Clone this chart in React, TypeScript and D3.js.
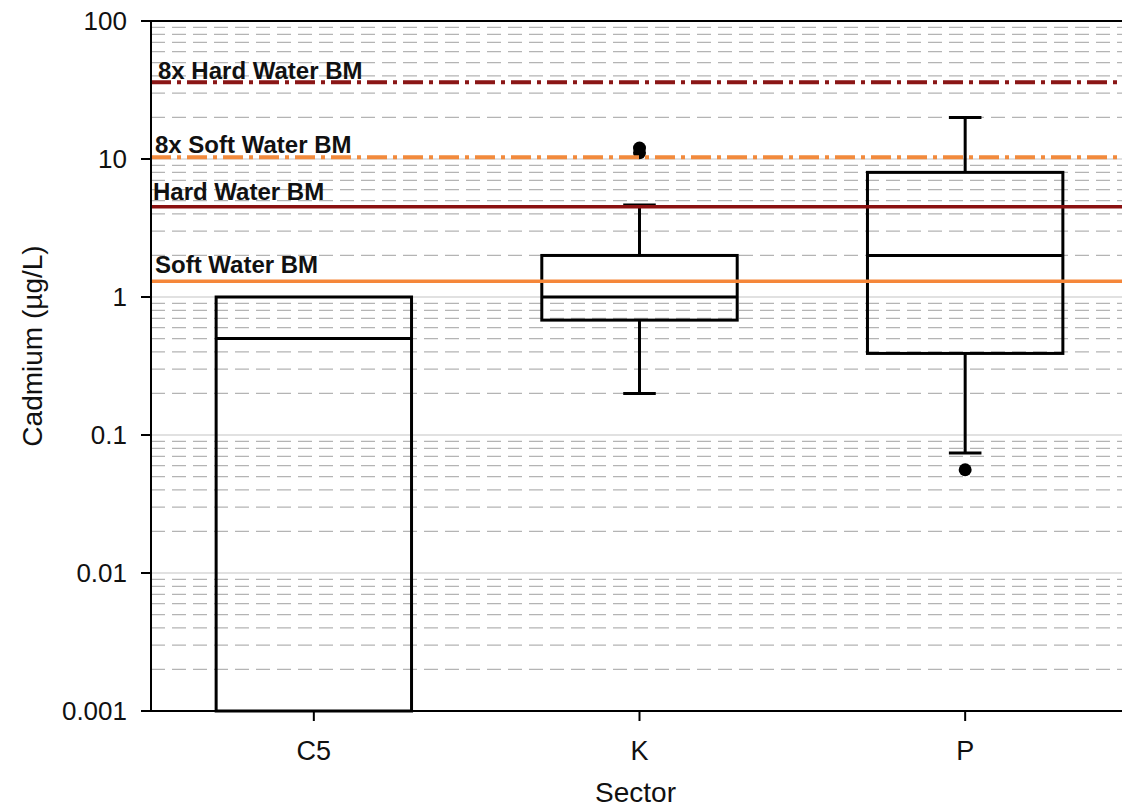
import React from 'react'
import * as d3 from 'd3'

// Box statistics per sector (Cadmium, µg/L)
const SECTORS = ['C5', 'K', 'P']
const Q1 = [0.001, 0.68, 0.39]
const MEDIANS = [0.5, 1.0, 2.0]
const Q3 = [1.0, 2.0, 8.0]
const WHISKER_LOW: (number | null)[] = [null, 0.2, 0.074]
const WHISKER_HIGH: (number | null)[] = [null, 4.65, 20]
const OUTLIERS: number[][] = [[], [12, 11.1], [0.056]]

// Benchmark lines
const BM_LABELS = ['8x Hard Water BM', '8x Soft Water BM', 'Hard Water BM', 'Soft Water BM']
const BM_VALUES = [36, 10.3, 4.5, 1.3]
const BM_COLORS = ['#8a1616', '#f28a3c', '#8a1010', '#f5873a']
const BM_DASHED = [true, true, false, false]
// label placement relative to the line (px)
const BM_LABEL_DX = [7, 4, 2, 4]
const BM_LABEL_DY = [-3, -4, -7, -8]

const Y_TICKS = [0.001, 0.01, 0.1, 1, 10, 100]
const Y_TICK_LABELS = ['0.001', '0.01', '0.1', '1', '10', '100']

const W = 1122
const H = 809
const margin = { top: 21, right: -6, bottom: 98, left: 151 }
const FONT = '"Liberation Sans", Arial, Helvetica, sans-serif'

export default function App() {
  const innerW = W - margin.left - margin.right
  const innerH = H - margin.top - margin.bottom

  const x = d3.scaleBand<string>().domain(SECTORS).range([0, innerW]).padding(0)
  const y = d3.scaleLog().domain([0.001, 100]).range([innerH, 0])

  const boxW = x.bandwidth() * 0.6
  const capW = x.bandwidth() * 0.1

  // minor grid values: 2..9 times each decade
  const minor: number[] = []
  for (let e = -3; e < 2; e++) {
    for (let m = 2; m <= 9; m++) minor.push(m * Math.pow(10, e))
  }
  const major = Y_TICKS.slice(1, -1)

  return (
    <svg width={W} height={H} style={{ position: 'absolute', left: 0, top: 0, background: '#fff' }} fontFamily={FONT}>
      <g transform={`translate(${margin.left},${margin.top})`}>
        {/* grid */}
        {minor.map((v, i) => (
          <line key={'mn' + i} x1={0} x2={innerW} y1={y(v)} y2={y(v)} stroke="#b4b4b4" strokeWidth={1.3} strokeDasharray="14,7" />
        ))}
        {major.map((v, i) => (
          <line key={'mj' + i} x1={0} x2={innerW} y1={y(v)} y2={y(v)} stroke="#c4c4c4" strokeWidth={1.2} />
        ))}

        {/* boxes */}
        {SECTORS.map((s, i) => {
          const cx = x(s)! + x.bandwidth() / 2
          const lo = WHISKER_LOW[i]
          const hi = WHISKER_HIGH[i]
          return (
            <g key={s} stroke="#000" strokeWidth={3} fill="none">
              {hi !== null && (
                <>
                  <line x1={cx} x2={cx} y1={y(Q3[i])} y2={y(hi)} />
                  <line x1={cx - capW / 2} x2={cx + capW / 2} y1={y(hi)} y2={y(hi)} />
                </>
              )}
              {lo !== null && (
                <>
                  <line x1={cx} x2={cx} y1={y(Q1[i])} y2={y(lo)} />
                  <line x1={cx - capW / 2} x2={cx + capW / 2} y1={y(lo)} y2={y(lo)} />
                </>
              )}
              <rect x={cx - boxW / 2} y={y(Q3[i])} width={boxW} height={y(Q1[i]) - y(Q3[i])} />
              <line x1={cx - boxW / 2} x2={cx + boxW / 2} y1={y(MEDIANS[i])} y2={y(MEDIANS[i])} />
              {OUTLIERS[i].map((o, j) => (
                <circle key={j} cx={cx} cy={y(o)} r={6.5} fill="#000" stroke="none" />
              ))}
            </g>
          )
        })}

        {/* benchmark lines */}
        {BM_VALUES.map((v, i) => (
          <line
            key={'bm' + i}
            x1={0}
            x2={innerW}
            y1={y(v)}
            y2={y(v)}
            stroke={BM_COLORS[i]}
            strokeWidth={BM_DASHED[i] ? 4 : 3.5}
            strokeDasharray={BM_DASHED[i] ? '20,6,4,6' : undefined}
          />
        ))}
        {BM_VALUES.map((v, i) => (
          <text
            key={'bl' + i}
            x={BM_LABEL_DX[i]}
            y={y(v) + BM_LABEL_DY[i]}
            fontSize={24}
            fontWeight="bold"
            fill="#111"
          >
            {BM_LABELS[i]}
          </text>
        ))}

        {/* frame */}
        <line x1={0} x2={innerW} y1={0} y2={0} stroke="#000" strokeWidth={2} />
        <line x1={0} x2={innerW} y1={innerH} y2={innerH} stroke="#000" strokeWidth={2} />
        <line x1={0} x2={0} y1={0} y2={innerH} stroke="#000" strokeWidth={2} />

        {/* y axis ticks */}
        {Y_TICKS.map((v, i) => (
          <g key={'yt' + i} transform={`translate(0,${y(v)})`}>
            <line x1={-10} x2={0} stroke="#000" strokeWidth={2} />
            <text x={-24} dy="0.35em" textAnchor="end" fontSize={26} fill="#111">
              {Y_TICK_LABELS[i]}
            </text>
          </g>
        ))}

        {/* x axis ticks */}
        {SECTORS.map(s => (
          <g key={'xt' + s} transform={`translate(${x(s)! + x.bandwidth() / 2},${innerH})`}>
            <line y1={0} y2={10} stroke="#000" strokeWidth={2} />
            <text y={49} textAnchor="middle" fontSize={27} fill="#111">
              {s}
            </text>
          </g>
        ))}

        {/* axis titles */}
        <text x={innerW / 2 - 4} y={innerH + 91} textAnchor="middle" fontSize={28} fill="#111">
          Sector
        </text>
        <text
          transform={`translate(${-109},${325}) rotate(-90)`}
          textAnchor="middle"
          fontSize={28}
          fill="#111"
        >
          Cadmium (µg/L)
        </text>
      </g>
    </svg>
  )
}
